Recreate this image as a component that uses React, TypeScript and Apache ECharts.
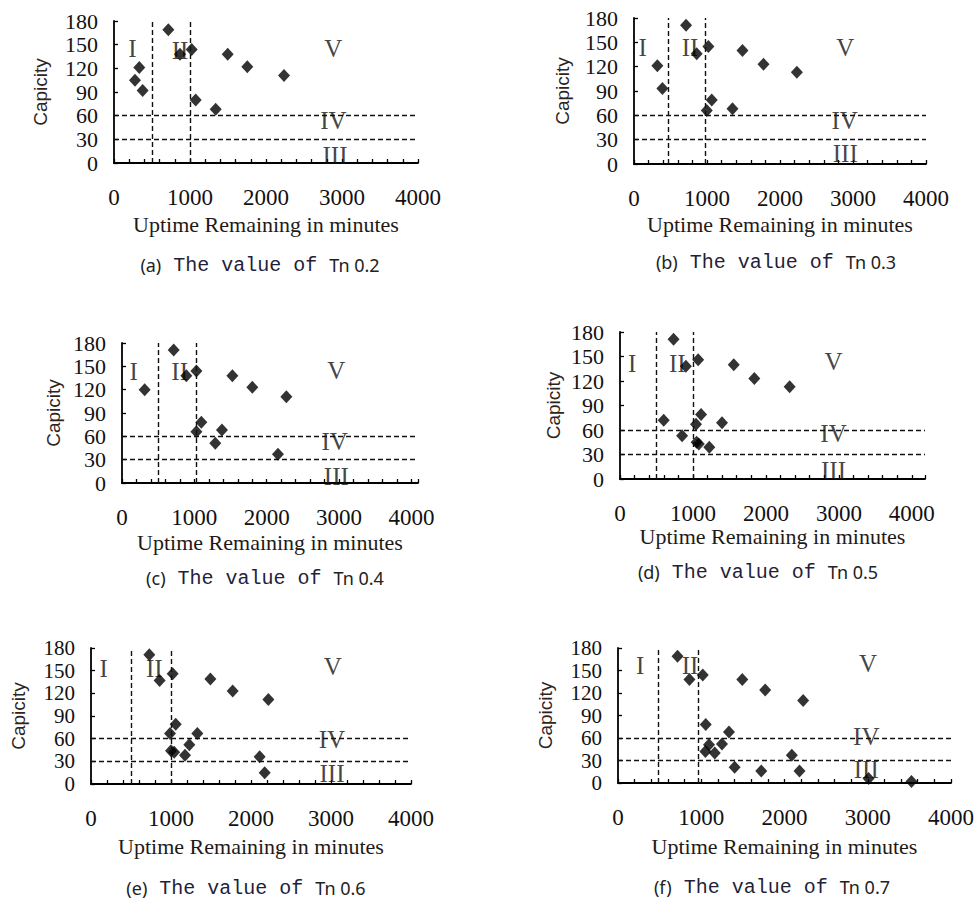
import React, { useEffect, useRef } from "react";
import * as echarts from "echarts";

// ---- data ----
const panelLetters = ["a", "b", "c", "d", "e", "f"];
const tnValues = ["0.2", "0.3", "0.4", "0.5", "0.6", "0.7"];
const xTickLabels = [0, 1000, 2000, 3000, 4000];
const yTickLabels = [0, 30, 60, 90, 120, 150, 180];
const xAxisMax = [4000, 4000, 4090, 4180, 4000, 4000];
const capacityThresholds = [60, 30];
const uptimeThresholds = [
  [500, 1000],
  [470, 973],
  [500, 1020],
  [490, 1000],
  [500, 1000],
  [480, 965],
];
const regionNames = ["I", "II", "V", "IV", "III"];

const pointsA = [[715, 169], [868, 138], [1022, 144], [1496, 138], [1754, 122], [2237, 111], [333, 121], [276, 105], [377, 92], [1075, 80], [1338, 68]];
const pointsB = [[713, 171], [859, 136], [1019, 145], [1486, 140], [1774, 123], [2231, 113], [320, 121], [389, 93], [1065, 79], [997, 66], [1349, 68]];
const pointsC = [[714, 171], [889, 138], [1028, 144], [1525, 138], [1801, 123], [2271, 111], [313, 120], [1096, 78], [1028, 66], [1381, 68], [1289, 51], [2155, 37]];
const pointsD = [[734, 171], [903, 138], [1071, 146], [1559, 140], [1841, 123], [2325, 113], [599, 72], [851, 53], [1042, 67], [1111, 79], [1398, 69], [1050, 45], [1080, 43], [1224, 39]];
const pointsE = [[729, 171], [858, 137], [1021, 146], [1492, 139], [1771, 123], [2217, 112], [1059, 79], [988, 67], [1329, 67], [1229, 52], [1000, 44], [1040, 42], [1175, 38], [2108, 36], [2171, 15]];
const pointsF = [[715, 169], [858, 138], [1018, 144], [1493, 138], [1768, 124], [2224, 110], [1054, 78], [1333, 68], [1093, 51], [1249, 52], [1050, 42], [1162, 40], [1401, 21], [1721, 16], [2088, 37], [2180, 16], [3010, 6], [3525, 2]];

const regionPosA = [[241, 145], [868, 143], [2886, 145], [2886, 54], [2908, 9]];
const regionPosB = [[119, 144], [768, 144], [2894, 144], [2885, 54], [2894, 13]];
const regionPosC = [[162, 143], [797, 143], [2961, 145], [2939, 53], [2961, 8]];
const regionPosD = [[168, 142], [784, 142], [2926, 144], [2926, 56], [2926, 11]];
const regionPosE = [[158, 153], [792, 153], [3021, 155], [3012, 59], [3012, 14]];
const regionPosF = [[267, 157], [866, 157], [3002, 160], [2982, 62], [2982, 18]];

const allPoints = [pointsA, pointsB, pointsC, pointsD, pointsE, pointsF];
const allRegionPos = [regionPosA, regionPosB, regionPosC, regionPosD, regionPosE, regionPosF];

// ---- layout ----
const gridLeft = [114, 634, 122, 620, 91, 618];
const gridTop = [21, 18, 343, 332, 648, 648];
const gridWidth = [304, 292, 296, 305, 320, 334];
const gridHeight = [142, 146, 140, 147, 136, 135];
const xNameGap = [50, 49, 48, 46, 51, 52];
const yNameGap = [64, 62, 59, 57, 63, 63];
const yLabelSize = [22, 22, 22, 22, 21, 21];
const captionX = [260, 776, 265, 758, 246, 772];
const captionY = [265, 262, 578, 572, 888, 887];

const SERIF = "Liberation Serif";

export default function App() {
  const ref = useRef<HTMLDivElement>(null);

  useEffect(() => {
    if (!ref.current) return;
    const chart = echarts.init(ref.current, undefined, { renderer: "svg" });

    const grids: any[] = [];
    const xAxes: any[] = [];
    const yAxes: any[] = [];
    const series: any[] = [];
    const graphics: any[] = [];

    panelLetters.forEach((letter, i) => {
      grids.push({
        left: gridLeft[i],
        top: gridTop[i],
        width: gridWidth[i],
        height: gridHeight[i],
        containLabel: false,
      });
      xAxes.push({
        type: "value",
        gridIndex: i,
        min: 0,
        max: xAxisMax[i],
        interval: 200,
        name: "Uptime Remaining in minutes",
        nameLocation: "middle",
        nameGap: xNameGap[i],
        nameTextStyle: { fontFamily: SERIF, fontSize: 22, color: "#1f1a17" },
        axisLine: { show: true, onZero: false, lineStyle: { color: "#000", width: 1.8 } },
        axisTick: { show: true, inside: true, length: 4, lineStyle: { color: "#000", width: 1.3 } },
        splitLine: { show: false },
        axisLabel: {
          interval: 0,
          margin: 23,
          showMinLabel: true,
          showMaxLabel: true,
          fontFamily: SERIF,
          fontSize: 23,
          color: "#111",
          formatter: (v: number) => (xTickLabels.includes(v) ? String(v) : ""),
        },
      });
      yAxes.push({
        type: "value",
        gridIndex: i,
        min: 0,
        max: 180,
        interval: 30,
        name: "Capicity",
        nameLocation: "middle",
        nameGap: yNameGap[i],
        nameRotate: 90,
        nameTextStyle: { fontFamily: "Liberation Sans", fontSize: 19, color: "#2e241e" },
        axisLine: { show: true, onZero: false, lineStyle: { color: "#000", width: 1.8 } },
        axisTick: { show: true, inside: true, length: 4, lineStyle: { color: "#000", width: 1.3 } },
        splitLine: { show: false },
        axisLabel: {
          margin: 16,
          showMinLabel: true,
          showMaxLabel: true,
          fontFamily: SERIF,
          fontSize: yLabelSize[i],
          lineHeight: yLabelSize[i],
          color: "#111",
          formatter: (v: number) => (yTickLabels.includes(v) ? String(v) : ""),
        },
      });

      series.push({
        type: "scatter",
        xAxisIndex: i,
        yAxisIndex: i,
        symbol: "circle",
        symbolSize: 1,
        silent: true,
        itemStyle: { color: "rgba(0,0,0,0)" },
        label: {
          show: true,
          position: "inside",
          formatter: "{b}",
          fontFamily: SERIF,
          fontSize: 25,
          color: "#111",
        },
        data: allRegionPos[i].map((p, k) => ({ name: regionNames[k], value: p })),
        z: 1,
      });

      series.push({
        type: "scatter",
        xAxisIndex: i,
        yAxisIndex: i,
        symbol: "diamond",
        symbolSize: [12, 13],
        itemStyle: { color: "#000" },
        data: allPoints[i],
        z: 3,
        markLine: {
          silent: true,
          symbol: ["none", "none"],
          label: { show: false },
          lineStyle: { type: [5, 3], color: "#111", width: 1.4 },
          data: [
            ...uptimeThresholds[i].map((v) => ({ xAxis: v })),
            ...capacityThresholds.map((v) => ({ yAxis: v })),
          ],
        },
      });

      graphics.push({
        type: "text",
        x: captionX[i],
        y: captionY[i],
        style: {
          text: `{p|(${letter})}{m| The value of }{t|Tn ${tnValues[i]}}`,
          align: "center",
          verticalAlign: "middle",
          rich: {
            p: { fontFamily: "Noto Sans", fontSize: 18, fill: "#222", color: "#222" },
            m: { fontFamily: "Liberation Mono", fontSize: 20, fill: "#231f3a", color: "#231f3a" },
            t: { fontFamily: "Noto Sans", fontSize: 18, fill: "#222", color: "#222" },
          },
        },
      });
    });

    chart.setOption({
      animation: false,
      backgroundColor: "#fff",
      grid: grids,
      xAxis: xAxes,
      yAxis: yAxes,
      series,
      graphic: graphics,
    });

    return () => chart.dispose();
  }, []);

  return (
    <div
      ref={ref}
      style={{ position: "absolute", left: 0, top: 0, width: 977, height: 910, background: "#fff" }}
    />
  );
}
